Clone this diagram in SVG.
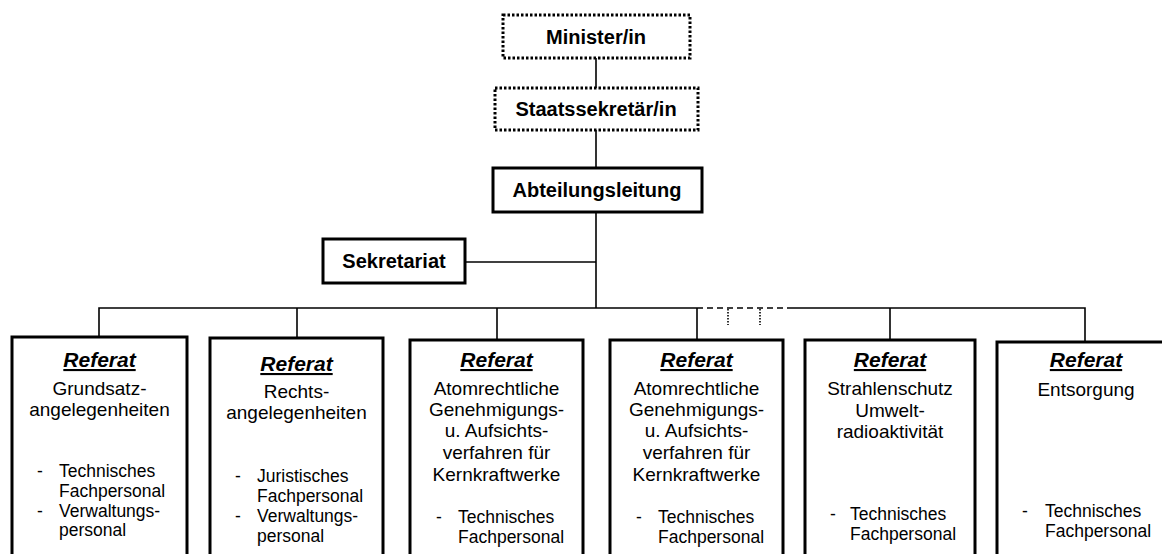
<svg xmlns="http://www.w3.org/2000/svg" width="1162" height="554" viewBox="0 0 1162 554">
<style>
.box{fill:#fff;stroke:#000;stroke-width:3}
.dot{fill:#fff;stroke:#000;stroke-width:3;stroke-dasharray:2.5 2}
.ln{fill:none;stroke:#000;stroke-width:1.6}
.hd{font-family:"Liberation Sans",Arial,sans-serif;font-weight:bold;font-size:20px;text-anchor:middle;fill:#000}
.ref{font-family:"Liberation Sans",Arial,sans-serif;font-weight:bold;font-style:italic;font-size:21px;text-anchor:middle;text-decoration:underline;fill:#000}
.tt{font-family:"Liberation Sans",Arial,sans-serif;font-size:19px;text-anchor:middle;fill:#000}
.bl{font-family:"Liberation Sans",Arial,sans-serif;font-size:17.5px;fill:#000}
</style>
<rect width="1162" height="554" fill="#fff"/>
<g id="connectors">
<line class="ln" x1="596" y1="58" x2="596" y2="88"/>
<line class="ln" x1="596" y1="130" x2="596" y2="168"/>
<line class="ln" x1="596" y1="212" x2="596" y2="308"/>
<line class="ln" x1="465" y1="262" x2="596" y2="262"/>
<polyline class="ln" points="99,337 99,308 697,308"/>
<line class="ln" x1="297" y1="308" x2="297" y2="338"/>
<line class="ln" x1="497" y1="308" x2="497" y2="340"/>
<line class="ln" x1="697" y1="308" x2="697" y2="340"/>
<line class="ln" x1="697" y1="308" x2="790" y2="308" stroke-dasharray="6 4"/>
<line class="ln" x1="728" y1="309" x2="728" y2="325" stroke-dasharray="1.5 1.5"/>
<line class="ln" x1="760" y1="309" x2="760" y2="325" stroke-dasharray="1.5 1.5"/>
<polyline class="ln" points="790,308 1085,308 1085,342"/>
<line class="ln" x1="890" y1="308" x2="890" y2="340"/>
</g>
<g id="minister">
<rect class="dot" x="503" y="15" width="187" height="43"/>
<text class="hd" x="596" y="44">Minister/in</text>
</g>
<g id="staatssekretaer">
<rect class="dot" x="495" y="88" width="203" height="42"/>
<text class="hd" x="596" y="116">Staatssekretär/in</text>
</g>
<g id="abteilungsleitung">
<rect class="box" x="493" y="168" width="209" height="44"/>
<text class="hd" x="597" y="197">Abteilungsleitung</text>
</g>
<g id="sekretariat">
<rect class="box" x="323" y="239" width="142" height="44"/>
<text class="hd" x="394" y="268">Sekretariat</text>
</g>
<g id="referat1">
<rect class="box" x="12" y="337" width="175" height="230"/>
<text class="ref" x="99.5" y="367">Referat</text>
<text class="tt" x="99.5" y="395">Grundsatz-</text>
<text class="tt" x="99.5" y="416">angelegenheiten</text>
<text class="bl" x="37" y="477">-</text><text class="bl" x="59" y="477">Technisches</text>
<text class="bl" x="59" y="497">Fachpersonal</text>
<text class="bl" x="37" y="517">-</text><text class="bl" x="59" y="517">Verwaltungs-</text>
<text class="bl" x="59" y="536">personal</text>
</g>
<g id="referat2">
<rect class="box" x="210" y="338" width="173" height="230"/>
<text class="ref" x="296.5" y="371">Referat</text>
<text class="tt" x="296.5" y="398">Rechts-</text>
<text class="tt" x="296.5" y="419">angelegenheiten</text>
<text class="bl" x="235" y="482">-</text><text class="bl" x="257" y="482">Juristisches</text>
<text class="bl" x="257" y="502">Fachpersonal</text>
<text class="bl" x="235" y="522">-</text><text class="bl" x="257" y="522">Verwaltungs-</text>
<text class="bl" x="257" y="542">personal</text>
</g>
<g id="referat3">
<rect class="box" x="410" y="340" width="173" height="230"/>
<text class="ref" x="496.5" y="367">Referat</text>
<text class="tt" x="496.5" y="395">Atomrechtliche</text>
<text class="tt" x="496.5" y="416">Genehmigungs-</text>
<text class="tt" x="496.5" y="437">u. Aufsichts-</text>
<text class="tt" x="496.5" y="459">verfahren für</text>
<text class="tt" x="496.5" y="481">Kernkraftwerke</text>
<text class="bl" x="436" y="523">-</text><text class="bl" x="458" y="523">Technisches</text>
<text class="bl" x="458" y="543">Fachpersonal</text>
</g>
<g id="referat4">
<rect class="box" x="610" y="340" width="173" height="230"/>
<text class="ref" x="696.5" y="367">Referat</text>
<text class="tt" x="696.5" y="395">Atomrechtliche</text>
<text class="tt" x="696.5" y="416">Genehmigungs-</text>
<text class="tt" x="696.5" y="437">u. Aufsichts-</text>
<text class="tt" x="696.5" y="459">verfahren für</text>
<text class="tt" x="696.5" y="481">Kernkraftwerke</text>
<text class="bl" x="636" y="523">-</text><text class="bl" x="658" y="523">Technisches</text>
<text class="bl" x="658" y="543">Fachpersonal</text>
</g>
<g id="referat5">
<rect class="box" x="805" y="340" width="170" height="230"/>
<text class="ref" x="890" y="367">Referat</text>
<text class="tt" x="890" y="395">Strahlenschutz</text>
<text class="tt" x="890" y="417">Umwelt-</text>
<text class="tt" x="890" y="438">radioaktivität</text>
<text class="bl" x="830" y="520">-</text><text class="bl" x="850" y="520">Technisches</text>
<text class="bl" x="850" y="540">Fachpersonal</text>
</g>
<g id="referat6">
<rect class="box" x="997" y="342" width="180" height="230"/>
<text class="ref" x="1086" y="367">Referat</text>
<text class="tt" x="1086" y="396">Entsorgung</text>
<text class="bl" x="1022" y="517">-</text><text class="bl" x="1045" y="517">Technisches</text>
<text class="bl" x="1045" y="537">Fachpersonal</text>
</g>
</svg>
